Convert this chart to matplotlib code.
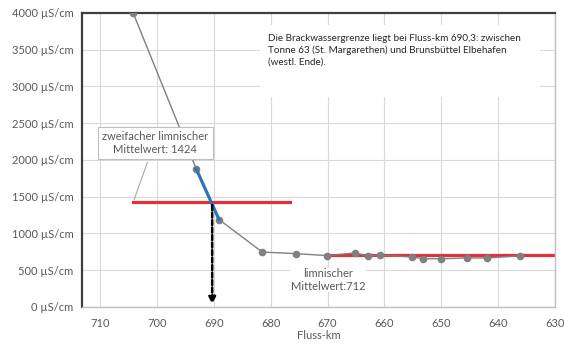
import matplotlib
matplotlib.use("Agg")
import matplotlib.pyplot as plt
from matplotlib.patches import Rectangle

plt.rcParams["font.family"] = ["Lato", "DejaVu Sans"]

# salinity profile along the Elbe (Fluss-km, conductivity in µS/cm)
km = [704.2, 693.1, 689.1, 681.5, 675.5, 670.1, 665.2, 662.9, 660.8,
      655.1, 653.2, 650.0, 645.5, 642.0, 636.2]
lf = [4000, 1878, 1190, 748, 725, 700, 735, 697, 702,
      682, 656, 656, 667, 667, 696]

# interpolation segment and thresholds
blue_km = [693.1, 689.1]
blue_lf = [1878, 1190]
grenze_km = 690.3
doppelt = 1424
doppelt_km = [704.2, 676.6]
limn = 712
limn_km = [670.0, 630.0]

xticks = [710, 700, 690, 680, 670, 660, 650, 640, 630]
yticks = [0, 500, 1000, 1500, 2000, 2500, 3000, 3500, 4000]

fig = plt.figure(figsize=(5.64, 3.51), dpi=100)
ax = fig.add_axes([0.1454, 0.1254, 0.984 - 0.1454, 0.963 - 0.1254])

ax.plot(km, lf, color="#808080", lw=1, marker="o", ms=4.5, zorder=3)
ax.plot(doppelt_km, [doppelt, doppelt], color="#e0303a", lw=2.3, zorder=4)
ax.plot(limn_km, [limn, limn], color="#e0303a", lw=2.3, zorder=2)
ax.plot(blue_km, blue_lf, color="#2e75b6", lw=2.3, zorder=5)

ax.annotate("", xy=(grenze_km, 0), xytext=(grenze_km, doppelt),
            arrowprops=dict(arrowstyle="-|>", color="black", lw=1.8,
                            linestyle=(0, (2, 1)), mutation_scale=10),
            zorder=6)

ax.set_xlim(713.2, 630)
ax.set_ylim(0, 4000)
ax.set_xticks(xticks)
ax.set_yticks(yticks)
ax.set_yticklabels([f"{v} µS/cm" for v in yticks])
ax.tick_params(length=0, labelsize=8, colors="#595959")
ax.tick_params(axis="y", pad=6)
ax.tick_params(axis="x", pad=8)
ax.grid(color="#d9d9d9", lw=0.8)
ax.set_axisbelow(True)
for side in ["left", "top"]:
    ax.spines[side].set_color("#404040")
    ax.spines[side].set_linewidth(1.6)
for side in ["right", "bottom"]:
    ax.spines[side].set_color("#bfbfbf")
    ax.spines[side].set_linewidth(1)
ax.set_xlabel("Fluss-km", fontsize=8, color="#595959", labelpad=1)

# callouts
ax.annotate("zweifacher limnischer\nMittelwert: 1424",
            xy=(doppelt_km[0], doppelt), xytext=(700.3, 2231),
            ha="center", va="center", fontsize=8, color="#595959",
            bbox=dict(boxstyle="square,pad=0.4", fc="white", ec="#bfbfbf", lw=0.8),
            arrowprops=dict(arrowstyle="-", color="#a6a6a6", lw=0.8,
                            relpos=(0.45, 0)),
            zorder=7)

ax.text(669.9, 367, "limnischer\nMittelwert:712", ha="center", va="center",
        fontsize=8, color="#595959",
        bbox=dict(boxstyle="square,pad=0.05", fc="white", ec="none"), zorder=7)

ax.add_patch(Rectangle((681.9, 2857), 632.6 - 681.9, 3836 - 2857,
                       fc="white", ec="none", zorder=1.5))
ax.text(680.5, 3720,
        "Die Brackwassergrenze liegt bei Fluss-km 690,3: zwischen\n"
        "Tonne 63 (St. Margarethen) und Brunsbüttel Elbehafen\n"
        "(westl. Ende).",
        ha="left", va="top", fontsize=7.1, color="#262626",
        linespacing=1.35, zorder=7)

fig.savefig("out.png", dpi=100)
